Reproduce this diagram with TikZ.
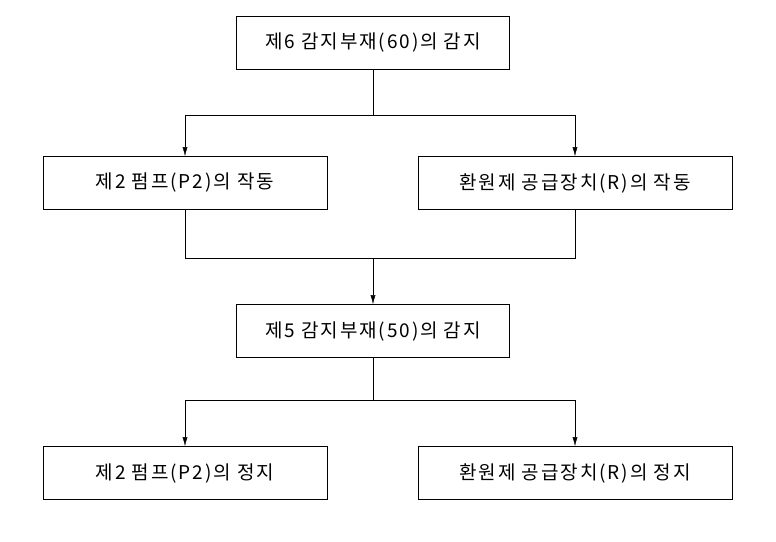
\documentclass[tikz,border=0pt]{standalone}
\usepackage{fontspec}
\newfontfamily\kr[LetterSpace=10]{Noto Sans CJK KR}
\usetikzlibrary{positioning, calc, arrows.meta}
\tikzset{
    stepbox/.style={draw, thick, minimum height=53, inner sep=0pt, font=\kr\fontsize{19}{22}\selectfont},
    flow/.style={-{Latex[length=9pt,width=5pt]}}
}
\begin{document}
\begin{tikzpicture}[x=1pt, y=-1pt]
        \useasboundingbox (0,0) rectangle (776,541);
        % boxes
        \node[stepbox, minimum width=273] (det6) at (373,43) {제6 감지부재(60)의 감지};
        \node[stepbox, minimum width=284] (pumpon) at (185,183) {제2 펌프(P2)의 작동};
        \node[stepbox, minimum width=314] (redon) at (575,183) {환원제 공급장치(R)의 작동};
        \node[stepbox, minimum width=273] (det5) at (373,331) {제5 감지부재(50)의 감지};
        \node[stepbox, minimum width=284] (pumpoff) at (185,473) {제2 펌프(P2)의 정지};
        \node[stepbox, minimum width=314] (redoff) at (575,473) {환원제 공급장치(R)의 정지};
        % connectors
        \coordinate (split1) at (373,115);
        \coordinate (join1) at (373,258);
        \coordinate (split2) at (373,400);
        \draw (det6) -- (split1);
        \draw[flow] (split1) -| (pumpon);
        \draw[flow] (split1) -| (redon);
        \draw (pumpon) |- (join1);
        \draw (redon) |- (join1);
        \draw[flow] (join1) -- (det5);
        \draw (det5) -- (split2);
        \draw[flow] (split2) -| (pumpoff);
        \draw[flow] (split2) -| (redoff);
\end{tikzpicture}
\end{document}
